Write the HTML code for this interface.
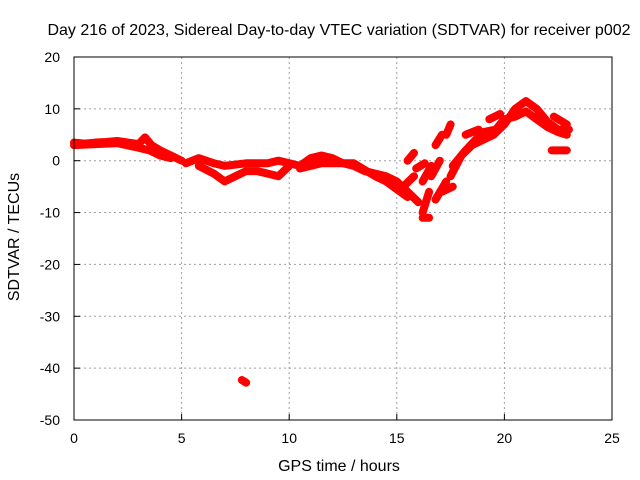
<!DOCTYPE html>
<html><head><meta charset="utf-8"><style>
body{margin:0;background:#fff}
svg{display:block;font-family:"Liberation Sans",Arial,sans-serif;font-size:14px}
.big{font-size:16px}
</style></head><body>
<svg id="chart" width="640" height="480">
<rect width="640" height="480" fill="#fff"/>
<text class="big" x="339" y="35" text-anchor="middle">Day 216 of 2023, Sidereal Day-to-day VTEC variation (SDTVAR) for receiver p002</text>
<text class="big" x="339" y="471" text-anchor="middle">GPS time / hours</text>
<text class="big" transform="translate(19,237) rotate(-90)" text-anchor="middle">SDTVAR / TECUs</text>
<g id="grid"></g>
<g id="marks"></g>
<rect x="74" y="57" width="538" height="363" fill="none" stroke="#000" stroke-width="1"/>
</svg>
<script>
const xTicks=[0,5,10,15,20,25];
const yTicks=[20,10,0,-10,-20,-30,-40,-50];
const trackA=[[0,3.5],[0.5,3.3],[1,3.5],[1.5,3.6],[2,3.8],[2.5,3.5],[3,3.2],[3.3,4.5],[3.6,3],[4,2],[4.5,1],[5,0]];
const trackA2=[[0,3],[1,3.2],[2,3.4],[3,2.5],[3.5,2],[4,1],[4.5,0.5]];
const trackB=[[5.2,-0.5],[5.8,0.5],[6.5,-0.5],[7,-1],[8,-0.5],[9,-0.5],[9.5,0],[10,-0.5]];
const trackB2=[[5.8,-1],[6.5,-2.5],[7,-4],[7.5,-3],[8,-2],[8.5,-2],[9,-2.5],[9.5,-3],[10,-1]];
const trackC=[[10,-0.5],[10.5,-1],[11,0.5],[11.5,1],[12,0.5],[12.5,-0.5],[13,-1],[13.5,-2],[14,-2.5],[14.5,-3],[15,-4],[15.5,-6],[16,-8]];
const trackC2=[[10.5,-1.5],[11,-1],[11.5,-0.5],[12,-0.5],[13,-0.5],[14,-3],[14.5,-4],[15,-5.5],[15.5,-7]];
const trackD=[[17.5,-3],[18,1],[18.5,3],[19,4],[19.5,5],[20,7],[20.5,10],[21,11.5],[21.5,10],[22,7.5],[22.5,6],[23,6]];
const trackD2=[[17.6,-1],[18.2,2],[19,5.5],[19.6,6],[20,8],[20.5,8.5],[21,9.5],[21.5,8],[22,6.5],[22.5,5.5],[22.9,5]];
const shortTracks=[
 [[15.3,-5],[15.8,-3]],[[15.5,0],[15.8,1.5]],[[16.2,-4],[16.6,-1]],[[16.6,-3],[17,0]],
 [[16.8,3],[17.1,5]],[[17.3,5],[17.5,7]],[[16.2,-10],[16.5,-6]],[[16.8,-7.5],[17.3,-4]],
 [[17.1,-6],[17.6,-5]],[[15.9,-1.5],[16.3,-0.5]],[[19.3,8],[19.8,9]],[[22.2,2],[22.9,2]],
 [[22.3,8.5],[22.9,7]],[[18.2,5],[18.8,6]],[[16.5,-11],[16.2,-11]],[[7.8,-42.3],[8,-42.8]]
];
const svg=document.getElementById('chart');
const NS='http://www.w3.org/2000/svg';
const X=v=>74+v*21.52, Y=v=>160.7-v*5.186;
const grid=document.getElementById('grid'), marks=document.getElementById('marks');
function mk(t,a,p){const e=document.createElementNS(NS,t);for(const k in a)e.setAttribute(k,a[k]);p.appendChild(e);return e;}
xTicks.forEach(t=>{
 if(t>0&&t<25){const l=mk('line',{x1:X(t),x2:X(t),y1:57,y2:420,stroke:'#a0a0a0','stroke-dasharray':'2,3'},grid);
 
 }
 const tx=mk('text',{x:X(t),y:443,'text-anchor':'middle'},svg);tx.textContent=t;
 
 
 const tk=mk('line',{x1:X(t),x2:X(t),y1:420,y2:414,stroke:'#000'},svg);
 
 
});
yTicks.forEach(t=>{
 if(t<20&&t>-50){const l=mk('line',{x1:74,x2:612,y1:Y(t),y2:Y(t),stroke:'#a0a0a0','stroke-dasharray':'2,3'},grid);
 
 }
 const tx=mk('text',{x:60,y:Y(t)+5,'text-anchor':'end'},svg);tx.textContent=t;
 
 
 const tk=mk('line',{x1:74,x2:80,y1:Y(t),y2:Y(t),stroke:'#000'},svg);
 
 
});
const tracks=[trackA,trackA2,trackB,trackB2,trackC,trackC2,trackD,trackD2,...shortTracks];
tracks.forEach(tr=>{
 const p=mk('polyline',{points:tr.map(d=>X(d[0])+','+Y(d[1])).join(' '),fill:'none',stroke:'#f00','stroke-width':8,'stroke-linejoin':'round','stroke-linecap':'round'},marks);
 
 
});
</script>
</body></html>
